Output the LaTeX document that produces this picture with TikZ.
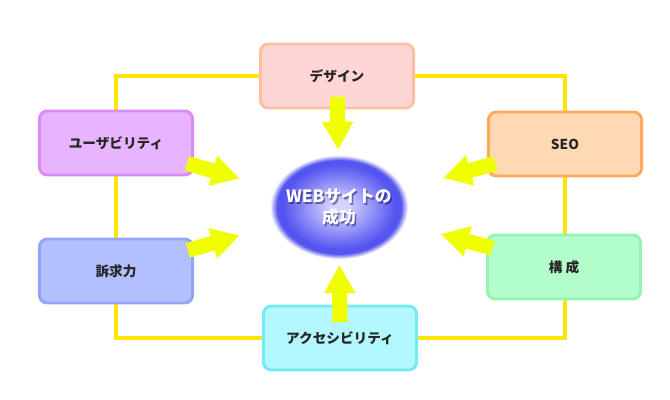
\documentclass[tikz,border=0pt]{standalone}
\usepackage{fontspec}
\newfontfamily\jpfont{Noto Sans CJK JP}
\usetikzlibrary{arrows.meta, positioning, backgrounds, shapes.geometric}

\definecolor{ringyellow}{HTML}{FFE600}
\definecolor{arrowyellow}{HTML}{F0FF00}
\definecolor{webcore}{HTML}{D4D4FF}
\definecolor{webedge}{HTML}{5454F0}
\pgfdeclareradialshading{webglow}{\pgfpoint{0bp}{0bp}}{%
    color(0bp)=(webcore); color(3bp)=(webcore);
    color(20.5bp)=(webedge); color(22.5bp)=(webedge);
    color(25bp)=(white); color(50bp)=(white)}

\begin{document}
\begin{tikzpicture}[
        x=0.025cm, y=-0.025cm,
        box/.style={
            draw,
            rounded corners=2mm,
            line width=2.1pt,
            align=center,
            minimum width=3.83cm,
            minimum height=1.6cm,
            text=black!85,
            font=\jpfont\bfseries\fontsize{9.7}{11.5}\selectfont
        },
        designbox/.style={box, fill={rgb,255:red,255;green,214;blue,214}, draw={rgb,255:red,255;green,191;blue,160}},
        seobox/.style={box, fill={rgb,255:red,255;green,217;blue,179}, draw={rgb,255:red,255;green,170;blue,90}},
        usabbox/.style={box, fill={rgb,255:red,232;green,180;blue,255}, draw={rgb,255:red,217;green,140;blue,245}},
        appealbox/.style={box, fill={rgb,255:red,179;green,192;blue,255}, draw={rgb,255:red,148;green,164;blue,250}},
        structbox/.style={box, fill={rgb,255:red,179;green,255;blue,204}, draw={rgb,255:red,148;green,245;blue,176}},
        accessbox/.style={box, fill={rgb,255:red,179;green,247;blue,255}, draw={rgb,255:red,115;green,234;blue,247}},
        goal/.style={
            ellipse,
            shading=webglow,
            minimum width=3.45cm,
            minimum height=2.6cm,
            inner sep=0pt
        },
        goaltext/.style={
            align=center,
            font=\jpfont\bfseries\fontsize{12}{14.5}\selectfont
        },
        ringline/.style={line width=2.2pt, draw=ringyellow},
        fatarrow/.style={
            -{Triangle[width=0.73cm, length=0.7cm]},
            line width=0.375cm,
            draw=arrowyellow
        }
    ]

    \useasboundingbox (0,0) rectangle (670,400);

    \node[goal] (web) at (339,207) {};
    \node[goaltext, text=blue!35!black, opacity=0.45] (webshadow) at (340.5,209) {WEBサイトの\\成功};
    \node[goaltext, text=white] (webtext) at (339,207) {WEBサイトの\\成功};

    \node[designbox] (design) at (337,76) {デザイン};
    \node[seobox] (seo) at (565,144) {SEO};
    \node[usabbox] (usab) at (116,143) {ユーザビリティ};
    \node[appealbox] (appeal) at (116,271) {訴求力};
    \node[structbox] (struct) at (564,267) {構 成};
    \node[accessbox] (access) at (340,338) {アクセシビリティ};

    \begin{scope}[on background layer]
        \draw[ringline] (usab.center |- design.center) rectangle (seo.center |- access.center);
    \end{scope}

    \draw[fatarrow, shorten <=0.52cm, shorten >=1.43cm] (design.center) -- (web.center);
    \draw[fatarrow, shorten <=0.40cm, shorten >=1.45cm] (access.center) -- (web.center);
    \draw[fatarrow, shorten <=1.85cm, shorten >=2.58cm] (usab.center) -- (web.center);
    \draw[fatarrow, shorten <=1.87cm, shorten >=2.58cm] (appeal.center) -- (web.center);
    \draw[fatarrow, shorten <=1.81cm, shorten >=2.70cm] (seo.center) -- (web.center);
    \draw[fatarrow, shorten <=1.85cm, shorten >=2.63cm] (struct.center) -- (web.center);

\end{tikzpicture}
\end{document}
